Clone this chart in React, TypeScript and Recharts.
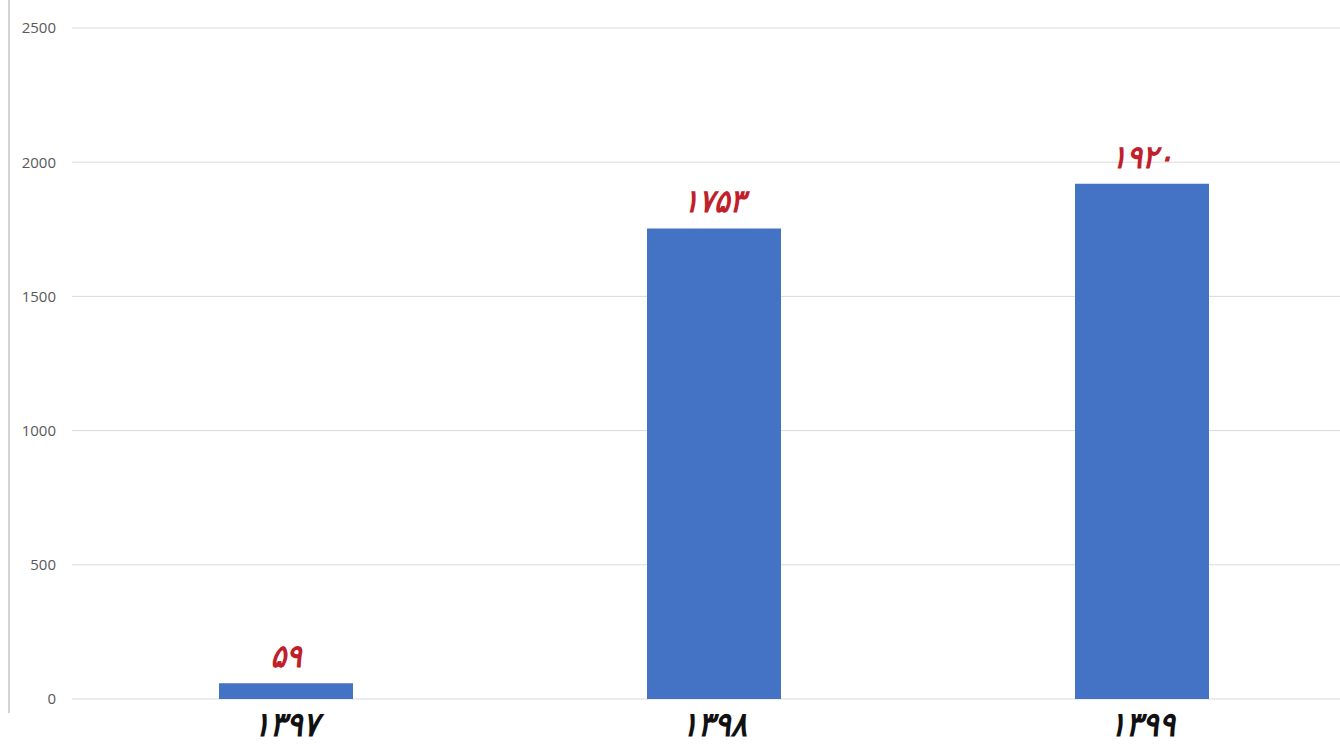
import { BarChart, Bar, XAxis, YAxis, CartesianGrid, LabelList } from 'recharts'

const years = [1397, 1398, 1399]
const counts = [59, 1753, 1920]
const yTicks = [0, 500, 1000, 1500, 2000, 2500]

const data = years.map((year, i) => ({ year, count: counts[i] }))

const faDigits = '۰۱۲۳۴۵۶۷۸۹'
const toFa = (n: number) => String(n).replace(/\d/g, (d) => faDigits[Number(d)])

const persianFont = '"DejaVu Sans Condensed", "DejaVu Sans", sans-serif'

function YearTick({ x, y, payload }: any) {
  return (
    <text
      x={x}
      y={y + 29}
      textAnchor="middle"
      fill="#111"
      fontSize={34}
      fontWeight="bold"
      fontStyle="italic"
      fontFamily={persianFont}
    >
      {toFa(payload.value)}
    </text>
  )
}

function ValueLabel({ x, y, width, value }: any) {
  return (
    <text
      x={x + width / 2}
      y={y - 16}
      textAnchor="middle"
      fill="#c0202a"
      fontSize={32}
      fontWeight="bold"
      fontStyle="italic"
      fontFamily={persianFont}
    >
      {toFa(value)}
    </text>
  )
}

export default function App() {
  return (
    <div
      style={{
        position: 'fixed',
        left: 0,
        top: 0,
        width: 1340,
        height: 745,
        overflow: 'hidden',
        background: '#fff',
      }}
    >
      <div
        style={{
          position: 'absolute',
          left: 8,
          top: 0,
          width: 2,
          height: 713,
          background: '#d4d4d4',
        }}
      />
      <BarChart
        width={1356}
        height={745}
        data={data}
        margin={{ top: 28, right: 0, bottom: 0, left: 0 }}
      >
        <CartesianGrid vertical={false} stroke="#d9d9d9" />
        <XAxis
          dataKey="year"
          height={46}
          axisLine={false}
          tickLine={false}
          tick={<YearTick />}
        />
        <YAxis
          width={72}
          domain={[0, 2500]}
          ticks={yTicks}
          axisLine={false}
          tickLine={false}
          tickSize={8}
          tickMargin={8}
          tick={{ fill: '#595959', fontSize: 15, fontFamily: '"Open Sans", sans-serif' }}
        />
        <Bar dataKey="count" fill="#4472c4" barSize={134} isAnimationActive={false}>
          <LabelList dataKey="count" content={<ValueLabel />} />
        </Bar>
      </BarChart>
    </div>
  )
}
